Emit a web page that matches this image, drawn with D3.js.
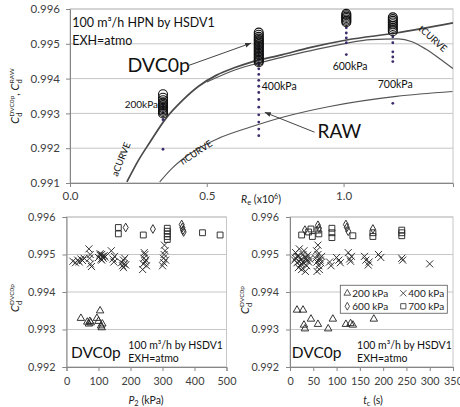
<!DOCTYPE html>
<html>
<head>
<meta charset="utf-8">
<script src="https://cdn.jsdelivr.net/npm/d3@7"></script>
<style>
  body { margin: 0; background: #fff; }
  text { font-family: Lato, "Open Sans", sans-serif; }
</style>
</head>
<body>
<svg id="fig" width="460" height="407"></svg>
<script>
// ---- top panel: Cd vs Re ----
const topRe = [0.34, 0.69, 1.01, 1.18];
const topLabels = ["200kPa", "400kPa", "600kPa", "700kPa"];
const topDvc = [
  [0.99355, 0.99345, 0.99338, 0.99332, 0.99328, 0.99324, 0.99320, 0.99316, 0.99312, 0.99308, 0.99304, 0.99300],
  [0.99532, 0.99526, 0.99520, 0.99515, 0.99511, 0.99507, 0.99503, 0.99499, 0.99495, 0.99491, 0.99487, 0.99483,
   0.99479, 0.99475, 0.99471, 0.99467, 0.99463, 0.99459, 0.99455, 0.99451, 0.99447],
  [0.99586, 0.99582, 0.99578, 0.99574, 0.99570, 0.99566, 0.99562],
  [0.99576, 0.99571, 0.99566, 0.99561, 0.99556, 0.99551, 0.99546, 0.99541, 0.99536]
];
const topRaw = [
  [0.99322, 0.99312, 0.99302, 0.99282, 0.99197],
  [0.99500, 0.99490, 0.99478, 0.99466, 0.99455, 0.99442, 0.99428, 0.99412, 0.99395, 0.99378, 0.99360, 0.99340, 0.99318, 0.99296, 0.99275, 0.99255, 0.99236],
  [0.99546, 0.99531, 0.99517, 0.99503, 0.99469],
  [0.99520, 0.99503, 0.99477, 0.99462, 0.99449, 0.99329]
];
const aCurveRe = [0.208, 0.25, 0.292, 0.35, 0.412, 0.47, 0.536, 0.6, 0.657, 0.777, 0.876, 1.011, 1.193, 1.4];
const aCurveCd = [0.99103, 0.99165, 0.99217, 0.99285, 0.99338, 0.99378, 0.99410, 0.99431, 0.99446, 0.99469, 0.99489, 0.99511, 0.99531, 0.9956];
const tCurveRe = [0.5, 0.6, 0.7, 0.8, 0.9, 1.0, 1.1, 1.2, 1.25, 1.3, 1.35, 1.4];
const tCurveCd = [0.99390, 0.99424, 0.99447, 0.99466, 0.99484, 0.99500, 0.99512, 0.99514, 0.99506, 0.99485, 0.99458, 0.99429];
const nCurveRe = [0.328, 0.37, 0.412, 0.47, 0.536, 0.657, 0.777, 0.949, 1.193, 1.398];
const nCurveCd = [0.99103, 0.99140, 0.99169, 0.99200, 0.99226, 0.99260, 0.99289, 0.99320, 0.99349, 0.99363];

// ---- bottom left: Cd vs P2 ----
const p2Tri = [45, 65, 70, 73, 76, 95, 100, 105, 108, 110, 112];
const cdP2Tri = [0.99330, 0.99320, 0.99315, 0.99322, 0.99318, 0.99330, 0.99322, 0.99350, 0.99310, 0.99305, 0.99315];
const p2Cross = [20, 28, 35, 40, 45, 50, 55, 70, 72, 75, 78, 74, 100, 105, 108, 110, 112, 115, 118, 120, 110, 105,
  140, 145, 150, 148, 172, 175, 178, 180, 182, 185, 178, 238, 240, 242, 245, 248, 250, 243, 246,
  300, 303, 305, 308, 310, 306, 304];
const cdP2Cross = [0.99482, 0.99478, 0.99485, 0.99480, 0.99488, 0.99484, 0.99490, 0.99515, 0.99490, 0.99475, 0.99468, 0.99500,
  0.99492, 0.99498, 0.99488, 0.99500, 0.99495, 0.99490, 0.99497, 0.99493, 0.99485, 0.99502,
  0.99510, 0.99488, 0.99495, 0.99480, 0.99478, 0.99470, 0.99485, 0.99475, 0.99490, 0.99472, 0.99465,
  0.99460, 0.99475, 0.99490, 0.99500, 0.99485, 0.99470, 0.99505, 0.99480,
  0.99470, 0.99490, 0.99500, 0.99510, 0.99485, 0.99525, 0.99478];
const p2Dia = [185, 270, 360, 362, 364, 366];
const cdP2Dia = [0.99572, 0.99568, 0.99580, 0.99572, 0.99565, 0.99560];
const p2Sq = [162, 162, 240, 315, 315, 315, 315, 315, 425, 480];
const cdP2Sq = [0.99572, 0.99555, 0.99552, 0.99570, 0.99562, 0.99555, 0.99548, 0.99540, 0.99558, 0.99552];

// ---- bottom right: Cd vs tc ----
const tcTri = [15, 28, 30, 32, 45, 60, 82, 92, 120, 130, 135, 180];
const cdTcTri = [0.99352, 0.99352, 0.99312, 0.99302, 0.99328, 0.99314, 0.99302, 0.99328, 0.99314, 0.99316, 0.99312, 0.99328];
const tcCross = [10, 12, 15, 18, 20, 22, 25, 28, 30, 32, 35, 38, 40, 42, 12, 18, 24, 30, 36, 15, 25, 35, 20, 28, 33,
  55, 58, 60, 62, 65, 68, 57, 63, 66, 60, 64, 58,
  85, 88, 100, 105, 108, 125, 128, 130, 132, 160, 163, 168, 170, 190, 195, 240, 242, 300];
const cdTcCross = [0.99485, 0.99490, 0.99478, 0.99495, 0.99482, 0.99470, 0.99488, 0.99500, 0.99476, 0.99492, 0.99484, 0.99498, 0.99480, 0.99488,
  0.99505, 0.99465, 0.99475, 0.99510, 0.99470, 0.99495, 0.99460, 0.99490, 0.99515, 0.99480, 0.99455,
  0.99490, 0.99480, 0.99500, 0.99470, 0.99485, 0.99495, 0.99510, 0.99460, 0.99478, 0.99525, 0.99490, 0.99455,
  0.99480, 0.99470, 0.99492, 0.99485, 0.99478, 0.99505, 0.99488, 0.99482, 0.99495, 0.99495, 0.99485, 0.99472, 0.99480,
  0.99500, 0.99492, 0.99490, 0.99485, 0.99475];
const tcDia = [32, 60, 62, 120, 122, 125, 178];
const cdTcDia = [0.99565, 0.99578, 0.99570, 0.99580, 0.99572, 0.99562, 0.99568];
const tcSq = [25, 40, 45, 48, 60, 62, 90, 90, 90, 135, 178, 178, 240, 240, 240];
const cdTcSq = [0.99552, 0.99560, 0.99568, 0.99548, 0.99565, 0.99555, 0.99570, 0.99558, 0.99545, 0.99550, 0.99558, 0.99548, 0.99565, 0.99558, 0.99550];

const legendNames = ["200 kPa", "400 kPa", "600 kPa", "700 kPa"];

const svg = d3.select("#fig");
const gridColor = "#c6c6c6", axisColor = "#868686", tickText = "#404040", ink = "#2a2a2a";

function panel(x, y, xTicks, yTicks, xFmt, fs, pad) {
  const g = svg.append("g");
  const [x0, x1] = x.range(), [y0, y1] = y.range();
  g.selectAll("line.grid").data(yTicks).join("line")
    .attr("class", "grid")
    .attr("x1", x0).attr("x2", x1)
    .attr("y1", d => y(d)).attr("y2", d => y(d))
    .attr("stroke", gridColor);
  g.append("rect")
    .attr("x", x0).attr("y", y1).attr("width", x1 - x0).attr("height", y0 - y1)
    .attr("fill", "none").attr("stroke", gridColor);
  const ax = g.append("g").attr("transform", `translate(0,${y0})`)
    .call(d3.axisBottom(x).tickValues(xTicks).tickSize(4).tickPadding(pad[0]).tickFormat(xFmt));
  const ay = g.append("g").attr("transform", `translate(${x0},0)`)
    .call(d3.axisLeft(y).tickValues(yTicks).tickSize(4).tickPadding(pad[1]).tickFormat(d3.format(".3f")));
  [ax, ay].forEach(a => {
    a.select(".domain").attr("stroke", axisColor);
    a.selectAll(".tick line").attr("stroke", axisColor);
    a.selectAll("text").attr("fill", tickText).style("font-size", fs + "px").style("font-family", "Lato, sans-serif");
  });
  return g;
}

// ================= top panel =================
const xTop = d3.scaleLinear().domain([0, 1.4]).range([70, 453]);
const yTop = d3.scaleLinear().domain([0.991, 0.996]).range([183, 9]);
panel(xTop, yTop, [0, 0.5, 1.0], d3.range(0.991, 0.99601, 0.001), d3.format(".1f"), 11.5, [5, 6]);

const lineTop = d3.line().x(d => xTop(d[0])).y(d => yTop(d[1])).curve(d3.curveMonotoneX);
svg.append("path").datum(d3.zip(aCurveRe, aCurveCd)).attr("d", lineTop)
  .attr("fill", "none").attr("stroke", "#4a4a4a").attr("stroke-width", 1.7);
svg.append("path").datum(d3.zip(tCurveRe, tCurveCd)).attr("d", lineTop)
  .attr("fill", "none").attr("stroke", "#555").attr("stroke-width", 1.2);
svg.append("path").datum(d3.zip(nCurveRe, nCurveCd)).attr("d", lineTop)
  .attr("fill", "none").attr("stroke", "#555").attr("stroke-width", 1.1);

// RAW dots and DVC0p circles
topRe.forEach((re, i) => {
  svg.append("g").selectAll("circle").data(topRaw[i]).join("circle")
    .attr("cx", xTop(re)).attr("cy", d => yTop(d)).attr("r", 1.4).attr("fill", "#3d2b6b");
  svg.append("g").selectAll("circle").data(topDvc[i]).join("circle")
    .attr("cx", xTop(re)).attr("cy", d => yTop(d)).attr("r", 4.5)
    .attr("fill", "none").attr("stroke", "#111").attr("stroke-width", 1.1);
});

// annotations in data coordinates
function txt(x, y, s, size, anchor, rot) {
  const t = svg.append("text").attr("x", x).attr("y", y).text(s)
    .style("font-size", size + "px").attr("fill", "#111").attr("text-anchor", anchor || "start");
  if (rot) t.attr("transform", `rotate(${rot},${x},${y})`);
  return t;
}
txt(xTop(0.008), yTop(0.99549), "100 m³/h HPN by HSDV1", 12.5);
txt(xTop(0.008), yTop(0.99497), "EXH=atmo", 12.5);
txt(xTop(0.21), yTop(0.99420), "DVC0p", 19.5);
txt(xTop(0.905), yTop(0.99228), "RAW", 19);
txt(xTop(0.34) - 5, yTop(0.99315), topLabels[0], 10, "end");
txt(xTop(0.69) + 3, yTop(0.99366), topLabels[1], 10.5);
txt(xTop(0.96), yTop(0.99426), topLabels[2], 10.5);
txt(xTop(1.125), yTop(0.99374), topLabels[3], 10.5);
txt(xTop(0.198), yTop(0.99165), "aCURVE", 9.5, "middle", -68);
txt(xTop(0.468), yTop(0.99180), "nCURVE", 9.5, "middle", -33);
txt(xTop(1.318), yTop(0.99508), "tCURVE", 9.5, "middle", 42);

svg.append("defs").append("marker").attr("id", "ah")
  .attr("viewBox", "0 0 10 10").attr("refX", 10).attr("refY", 5)
  .attr("markerWidth", 6).attr("markerHeight", 6).attr("orient", "auto")
  .append("path").attr("d", "M0,1 L10,5 L0,9 z").attr("fill", "#333");
function arrow(xa, ya, xb, yb) {
  svg.append("line").attr("x1", xTop(xa)).attr("y1", yTop(ya)).attr("x2", xTop(xb)).attr("y2", yTop(yb))
    .attr("stroke", "#444").attr("stroke-width", 1).attr("marker-end", "url(#ah)");
}
arrow(0.431, 0.99437, 0.662, 0.99502);
arrow(0.894, 0.99246, 0.712, 0.99303);

// axis titles
const yt = svg.append("text").attr("transform", "translate(19,96) rotate(-90)")
  .attr("text-anchor", "middle").style("font-size", "11px").attr("fill", "#222");
yt.append("tspan").text("C").style("font-style", "italic");
yt.append("tspan").text("d").attr("dy", 3).style("font-size", "7.5px");
yt.append("tspan").text("DVC0p").attr("dx", -4).attr("dy", -8).style("font-size", "6.5px");
yt.append("tspan").text(", ").attr("dy", 5);
yt.append("tspan").text("C").style("font-style", "italic");
yt.append("tspan").text("d").attr("dy", 3).style("font-size", "7.5px");
yt.append("tspan").text("RAW").attr("dx", -4).attr("dy", -8).style("font-size", "6.5px");

const xt = svg.append("text").attr("x", 261).attr("y", 203).attr("text-anchor", "middle")
  .style("font-size", "10.5px").attr("fill", "#222");
xt.append("tspan").text("R").style("font-style", "italic");
xt.append("tspan").text("e").attr("dy", 2).style("font-size", "7.5px");
xt.append("tspan").text(" (x10").attr("dy", -2);
xt.append("tspan").text("6").attr("dy", -4).style("font-size", "7px");
xt.append("tspan").text(")").attr("dy", 4);

// ================= bottom panels =================
const yBot = d3.scaleLinear().domain([0.992, 0.996]).range([367, 217]);
const xP2 = d3.scaleLinear().domain([0, 500]).range([66.5, 226.5]);
const xTc = d3.scaleLinear().domain([0, 350]).range([290, 453]);
const yTicksBot = d3.range(0.992, 0.99601, 0.001);
panel(xP2, yBot, d3.range(0, 501, 100), yTicksBot, d3.format("d"), 10.8, [6, 7]);
panel(xTc, yBot, d3.range(0, 351, 50), yTicksBot, d3.format("d"), 10.8, [6, 7]);

const shapes = [d3.symbolTriangle, d3.symbolTimes, d3.symbolDiamond, d3.symbolSquare];
const sizes = [24, 34, 22, 34];
function scatter(x, xs, ys, k) {
  svg.append("g").selectAll("path").data(d3.zip(xs, ys)).join("path")
    .attr("transform", d => `translate(${x(d[0])},${yBot(d[1])})`)
    .attr("d", d3.symbol(shapes[k], sizes[k]))
    .attr("fill", "none").attr("stroke", ink).attr("stroke-width", 0.95);
}
scatter(xP2, p2Tri, cdP2Tri, 0);
scatter(xP2, p2Cross, cdP2Cross, 1);
scatter(xP2, p2Dia, cdP2Dia, 2);
scatter(xP2, p2Sq, cdP2Sq, 3);
scatter(xTc, tcTri, cdTcTri, 0);
scatter(xTc, tcCross, cdTcCross, 1);
scatter(xTc, tcDia, cdTcDia, 2);
scatter(xTc, tcSq, cdTcSq, 3);

// legend
const lg = svg.append("g").attr("transform", `translate(${xTc(108)},${yBot(0.99418)})`);
lg.append("rect").attr("width", 107).attr("height", 28).attr("fill", "#fff").attr("stroke", "#555").attr("stroke-width", 0.8);
legendNames.forEach((n, i) => {
  const cx = 7 + (i % 2) * 56, cy = 8 + Math.floor(i / 2) * 13;
  lg.append("path").attr("transform", `translate(${cx},${cy})`)
    .attr("d", d3.symbol(shapes[i], sizes[i] * 0.8)).attr("fill", "none").attr("stroke", ink).attr("stroke-width", 0.8);
  lg.append("text").attr("x", cx + 5).attr("y", cy + 3.5).text(n)
    .style("font-size", "10px").attr("fill", "#222");
});

function botNotes(x, x0) {
  txt(x(x0[0]), yBot(0.99224), "DVC0p", 15.5);
  txt(x(x0[1]), yBot(0.99247), "100 m³/h by HSDV1", 10.5);
  txt(x(x0[1]), yBot(0.99213), "EXH=atmo", 10.5);
}
botNotes(xP2, [14, 193]);
botNotes(xTc, [4, 144]);

function yTitle(xp, yp) {
  const t = svg.append("text").attr("transform", `translate(${xp},${yp}) rotate(-90)`)
    .attr("text-anchor", "middle").style("font-size", "11px").attr("fill", "#222");
  t.append("tspan").text("C").style("font-style", "italic");
  t.append("tspan").text("d").attr("dy", 3).style("font-size", "7.5px");
  t.append("tspan").text("DVC0p").attr("dx", -4).attr("dy", -8).style("font-size", "6.5px");
}
yTitle(19, 298);
yTitle(249, 300);

function xTitle(xp, main, sub, rest) {
  const t = svg.append("text").attr("x", xp).attr("y", 404).attr("text-anchor", "middle")
    .style("font-size", "10.5px").attr("fill", "#222");
  t.append("tspan").text(main).style("font-style", "italic");
  t.append("tspan").text(sub).attr("dy", 2).style("font-size", "7.5px");
  t.append("tspan").text(rest).attr("dy", -2);
}
xTitle(146, "P", "2", " (kPa)");
xTitle(373, "t", "c", " (s)");
</script>
</body>
</html>
